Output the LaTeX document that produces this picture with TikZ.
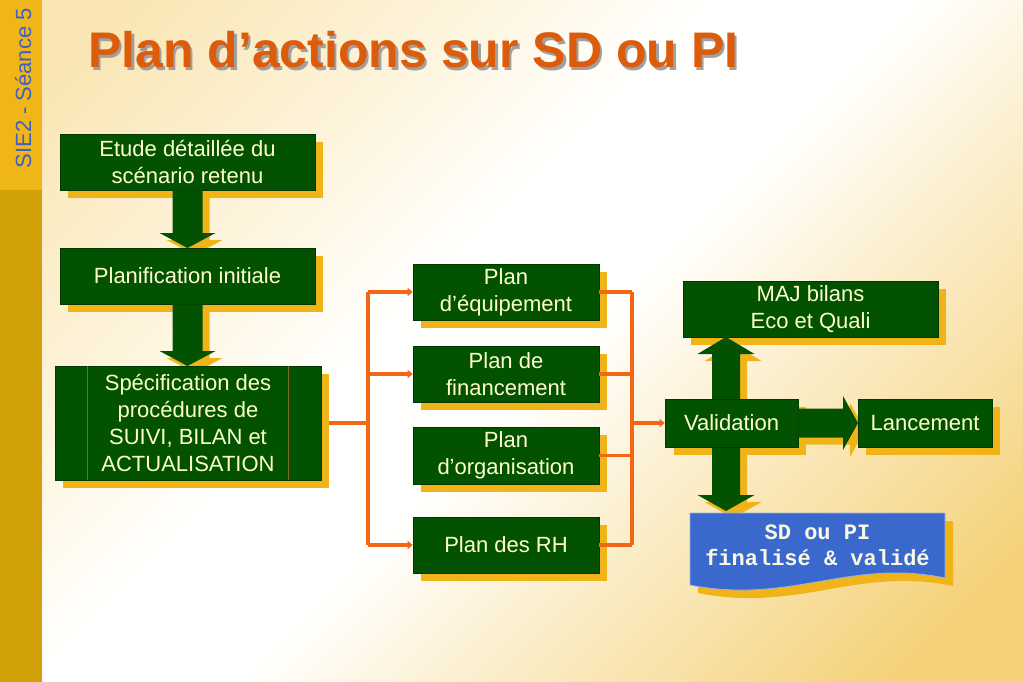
\documentclass[tikz,border=0pt]{standalone}
\usepackage{fontspec}
\setmainfont{Liberation Sans}
\setmonofont{Liberation Mono}
\usetikzlibrary{arrows.meta,calc,shadows}
\definecolor{bgtl}{RGB}{250,230,180}
\definecolor{bgtl2}{RGB}{253,244,220}
\definecolor{bgmid}{RGB}{255,255,253}
\definecolor{bgbr2}{RGB}{251,236,198}
\definecolor{bgbr}{RGB}{245,210,122}
\definecolor{stripTop}{RGB}{240,182,24}
\definecolor{stripBot}{RGB}{210,160,8}
\definecolor{sideblue}{RGB}{64,96,192}
\definecolor{titleorange}{RGB}{220,92,12}
\definecolor{titleshadow}{RGB}{160,160,160}
\definecolor{boxgreen}{RGB}{2,82,2}
\definecolor{boxedge}{RGB}{0,56,0}
\definecolor{boxtext}{RGB}{255,255,204}
\definecolor{shadowyellow}{RGB}{240,180,24}
\definecolor{specline}{RGB}{120,105,30}
\definecolor{oline}{RGB}{242,102,22}
\definecolor{sdblue}{RGB}{58,104,204}
\definecolor{sdedge}{RGB}{150,180,235}
\definecolor{sdtextc}{RGB}{250,250,228}
\pgfdeclareverticalshading{bgsh}{100bp}{color(0bp)=(bgbr); color(20bp)=(bgbr); color(36bp)=(bgbr2); color(47bp)=(bgmid); color(56bp)=(bgmid); color(66bp)=(bgtl2); color(80bp)=(bgtl); color(100bp)=(bgtl)}
\newcommand\blockdown[4]{% from, to, style, offset
  \fill[#3] let \p1=(#1), \p2=(#2) in
   (\x1-15pt+#4,\y1-#4) -- (\x1+15pt+#4,\y1-#4) -- (\x1+15pt+#4,\y2+15pt-#4)
   -- (\x1+28pt+#4,\y2+15pt-#4) -- (\x1+#4,\y2-#4) -- (\x1-28pt+#4,\y2+15pt-#4)
   -- (\x1-15pt+#4,\y2+15pt-#4) -- cycle;}
\newcommand\blockupdown[4]{% top tip, bottom tip, style, offset
  \fill[#3] let \p1=(#1), \p2=(#2) in
   (\x1+#4,\y1-#4) -- (\x1+28.5pt+#4,\y1-17pt-#4) -- (\x1+14pt+#4,\y1-17pt-#4)
   -- (\x1+14pt+#4,\y2+16pt-#4) -- (\x1+28.5pt+#4,\y2+16pt-#4) -- (\x1+#4,\y2-#4)
   -- (\x1-28.5pt+#4,\y2+16pt-#4) -- (\x1-14pt+#4,\y2+16pt-#4)
   -- (\x1-14pt+#4,\y1-17pt-#4) -- (\x1-28.5pt+#4,\y1-17pt-#4) -- cycle;}
\newcommand\blockright[4]{% from, to, style, offset
  \fill[#3] let \p1=(#1), \p2=(#2) in
   (\x1+#4,\y1+14.5pt-#4) -- (\x2-15pt+#4,\y1+14.5pt-#4) -- (\x2-15pt+#4,\y1+27pt-#4)
   -- (\x2+#4,\y1-#4) -- (\x2-15pt+#4,\y1-27pt-#4) -- (\x2-15pt+#4,\y1-14.5pt-#4)
   -- (\x1+#4,\y1-14.5pt-#4) -- cycle;}
\begin{document}
\begin{tikzpicture}[x=1pt,y=-1pt,
  boxfont/.style={font=\fontsize{22}{26.7}\selectfont},
  gboxplain/.style={fill=boxgreen, draw=boxedge, line width=0.6pt, text=boxtext,
     boxfont, align=center, inner sep=0pt},
  gbox/.style={gboxplain, general shadow={fill=shadowyellow, shadow xshift=8pt, shadow yshift=-8pt}},
  olinestyle/.style={draw=oline, line width=3.2pt, line join=miter},
  oarrow/.style={olinestyle, -{Triangle[length=5pt,width=8pt]}},
  greenfill/.style={fill=boxgreen},
  yellowfill/.style={fill=shadowyellow}]
\useasboundingbox (0,0) rectangle (1023,682);
% background
\shade[shading=bgsh, shading angle=45] (0,0) rectangle (1023,682);
\fill[stripTop] (0,0) rectangle (42,190);
\fill[stripBot] (0,190) rectangle (42,682);
\node[rotate=90, anchor=base east, text=sideblue, font=\fontsize{22}{26}\selectfont, inner sep=0pt]
  (side) at (31,8) {SIE2 - Séance 5};
% title
\node[anchor=base west, inner sep=0pt, text=titleshadow, font=\fontsize{50}{60}\selectfont\bfseries]
  (titleshadow) at (90.5,70.5) {Plan d’actions sur SD ou PI};
\node[anchor=base west, inner sep=0pt, text=titleorange, font=\fontsize{50}{60}\selectfont\bfseries]
  (title) at (88,68) {Plan d’actions sur SD ou PI};
% left column
\node[gbox, minimum width=255pt, minimum height=56pt] (etude) at (187.5,162)
  {Etude détaillée du\\scénario retenu};
\coordinate (planiftop) at (187.5,248);
\blockdown{etude.south}{planiftop}{yellowfill}{7pt}
\blockdown{etude.south}{planiftop}{greenfill}{0pt}
\node[gbox, minimum width=255pt, minimum height=56pt] (planif) at (187.5,276)
  {Planification initiale};
\coordinate (spectop) at (187.5,366);
\blockdown{planif.south}{spectop}{yellowfill}{7pt}
\blockdown{planif.south}{spectop}{greenfill}{0pt}
\node[gbox, minimum width=266pt, minimum height=114pt] (spec) at (188,423)
  {Spécification des\\procédures de\\SUIVI, BILAN et\\ACTUALISATION};
\draw[specline, line width=0.8pt] ([xshift=33pt]spec.north west) -- ([xshift=33pt]spec.south west);
\draw[specline, line width=0.8pt] ([xshift=-33pt]spec.north east) -- ([xshift=-33pt]spec.south east);
% plans
\node[gbox, minimum width=186pt, minimum height=56pt] (pa) at (506,292) {Plan\\d’équipement};
\node[gbox, minimum width=186pt, minimum height=56pt] (pb) at (506,374) {Plan de\\financement};
\node[gbox, minimum width=186pt, minimum height=57pt] (pc) at (506,455.5) {Plan\\d’organisation};
\node[gbox, minimum width=186pt, minimum height=56pt] (pd) at (506,545) {Plan des RH};
% right group
\node[gbox, minimum width=255pt, minimum height=56pt] (maj) at (810.5,309) {MAJ bilans\\Eco et Quali};
\coordinate (vtop) at (726,337);
\coordinate (vbot) at (726,511);
\fill[shadowyellow] (673.5,407) rectangle (806,455);
\blockupdown{vtop}{vbot}{yellowfill}{7pt}
\blockupdown{vtop}{vbot}{greenfill}{0pt}
% SD document shape
\fill[shadowyellow] (698,521) -- (953,521) -- (953,586)
  .. controls (858,566) and (798,613) .. (698,593) -- cycle;
\filldraw[fill=sdblue, draw=sdedge, line width=0.8pt] (690,513) -- (945,513) -- (945,578)
  .. controls (850,558) and (790,605) .. (690,585) -- cycle;
\node[text=sdtextc, align=center, inner sep=0pt,
  font=\fontsize{22}{26}\selectfont\ttfamily\bfseries] (sd) at (817.5,545)
  {SD ou PI\\finalisé \& validé};
\node[gboxplain, minimum width=133pt, minimum height=48pt] (valid) at (731.5,423) {Validation};
\coordinate (lancwest) at (858,423);
\blockright{valid.east}{lancwest}{yellowfill}{7pt}
\blockright{valid.east}{lancwest}{greenfill}{0pt}
\node[gbox, minimum width=134pt, minimum height=48pt] (lanc) at (925,423) {Lancement};
% orange connectors
\coordinate (jl) at (368,423);
\coordinate (jr) at (632,423);
\draw[olinestyle] ([xshift=8pt]spec.east) -- (jl);
\draw[olinestyle] (jl |- pa.west) -- (jl |- pd.west);
\draw[oarrow] (jl |- pa.west) -- (pa.west);
\draw[oarrow] (jl |- pb.west) -- (pb.west);
\draw[oarrow] (jl |- pd.west) -- (pd.west);
\draw[olinestyle] (pa.east) -- (jr |- pa.east);
\draw[olinestyle] (pb.east) -- (jr |- pb.east);
\draw[olinestyle] (pc.east) -- (jr |- pc.east);
\draw[olinestyle] (pd.east) -- (jr |- pd.east);
\draw[olinestyle] (jr |- pa.east) -- (jr |- pd.east);
\draw[oarrow] (jr) -- (valid.west);
\end{tikzpicture}
\end{document}
